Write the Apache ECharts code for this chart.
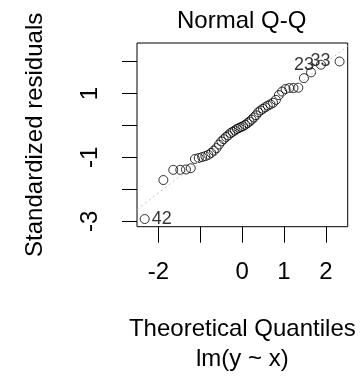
<!DOCTYPE html>
<html>
<head>
<meta charset="utf-8">
<script src="https://cdn.jsdelivr.net/npm/echarts@6/dist/echarts.min.js"></script>
<style>
  html, body { margin: 0; padding: 0; background: #fff; }
  #chart { width: 364px; height: 377px; }
</style>
</head>
<body>
<div id="chart"></div>
<script>
// theoretical normal quantiles for n = 50
const theoretical = [
  -2.3263, -1.8808, -1.6449, -1.4758, -1.3408, -1.2265, -1.1264, -1.0364, -0.9542, -0.8779,
  -0.8064, -0.7388, -0.6745, -0.6128, -0.5534, -0.4959, -0.4399, -0.3853, -0.3319, -0.2793,
  -0.2275, -0.1764, -0.1257, -0.0753, -0.0251, 0.0251, 0.0753, 0.1257, 0.1764, 0.2275,
  0.2793, 0.3319, 0.3853, 0.4399, 0.4959, 0.5534, 0.6128, 0.6745, 0.7388, 0.8064,
  0.8779, 0.9542, 1.0364, 1.1264, 1.2265, 1.3408, 1.4758, 1.6449, 1.8808, 2.3263
];
// sorted standardized residuals
const residuals = [
  -2.93, -1.71, -1.39, -1.39, -1.38, -1.34, -1.05, -1.02, -0.99, -0.96,
  -0.92, -0.86, -0.79, -0.71, -0.60, -0.50, -0.43, -0.36, -0.31, -0.24,
  -0.20, -0.16, -0.11, -0.08, -0.05, -0.02, 0.02, 0.07, 0.12, 0.18,
  0.25, 0.32, 0.41, 0.47, 0.52, 0.57, 0.62, 0.66, 0.71, 0.80,
  0.95, 1.06, 1.14, 1.17, 1.17, 1.18, 1.48, 1.66, 1.90, 2.00
];
// labelled observations: index in sorted order -> observation id
const pointIds = { 0: "42", 48: "23", 49: "33" };

// reference line (qqline)
const qqLineX = [-2.6, 2.6];
const qqLineY = [-2.724, 2.564];

const xTicks = [-2, -1, 0, 1, 2];
const xTickLabels = [-2, 0, 1, 2];
const yTicks = [-3, -2, -1, 0, 1, 2];
const yTickLabels = [-3, -1, 1];

const FONT = "Liberation Sans, Arial, sans-serif";

const chart = echarts.init(document.getElementById("chart"), null, { renderer: "canvas" });

const points = theoretical.map((x, i) => {
  const item = { value: [x, residuals[i]] };
  if (pointIds[i]) {
    item.label = {
      show: true,
      formatter: pointIds[i],
      position: i === 0 ? "right" : "left",
      distance: i === 49 ? 4 : 2,
      color: "#000",
      fontSize: 18,
      fontFamily: FONT,
    };
  }
  return item;
});

chart.setOption({
  animation: false,
  backgroundColor: "#fff",
  grid: {
    left: 137,
    top: 43,
    right: 16.3,
    bottom: 150.3,
    show: true,
    borderColor: "#000",
    borderWidth: 1,
    backgroundColor: "transparent",
  },
  graphic: [
    {
      type: "text",
      x: 241.7,
      y: 21.7,
      style: {
        text: "Normal Q-Q",
        fill: "#000",
        font: "24px " + FONT,
        align: "center",
        verticalAlign: "middle",
      },
    },
  ],
  xAxis: {
    type: "value",
    min: -2.51,
    max: 2.52,
    name: "Theoretical Quantiles\nlm(y ~ x)",
    nameLocation: "middle",
    nameGap: 88,
    nameTextStyle: { color: "#000", fontSize: 24, fontFamily: FONT, lineHeight: 30 },
    axisLine: { show: false, onZero: false },
    splitLine: { show: false },
    axisTick: {
      show: true,
      inside: false,
      length: 16,
      customValues: xTicks,
      lineStyle: { color: "#000", width: 1 },
    },
    axisLabel: {
      customValues: xTickLabels,
      margin: 34,
      color: "#000",
      fontSize: 24,
      fontFamily: FONT,
    },
  },
  yAxis: {
    type: "value",
    min: -3.17,
    max: 2.58,
    name: "Standardized residuals",
    nameLocation: "middle",
    nameRotate: 90,
    nameGap: 90,
    nameTextStyle: { color: "#000", fontSize: 24, fontFamily: FONT },
    axisLine: { show: false, onZero: false },
    splitLine: { show: false },
    axisTick: {
      show: true,
      inside: false,
      length: 15,
      customValues: yTicks,
      lineStyle: { color: "#000", width: 1 },
    },
    axisLabel: {
      customValues: yTickLabels,
      rotate: 90,
      margin: 35,
      color: "#000",
      fontSize: 24,
      fontFamily: FONT,
    },
  },
  series: [
    {
      type: "line",
      data: qqLineX.map((x, i) => [x, qqLineY[i]]),
      showSymbol: false,
      symbol: "none",
      clip: true,
      silent: true,
      lineStyle: { color: "#bebebe", width: 1, type: [2, 3] },
    },
    {
      type: "scatter",
      data: points,
      symbol: "circle",
      symbolSize: 9,
      clip: false,
      itemStyle: { color: "transparent", borderColor: "#000", borderWidth: 1 },
    },
  ],
});
</script>
</body>
</html>
